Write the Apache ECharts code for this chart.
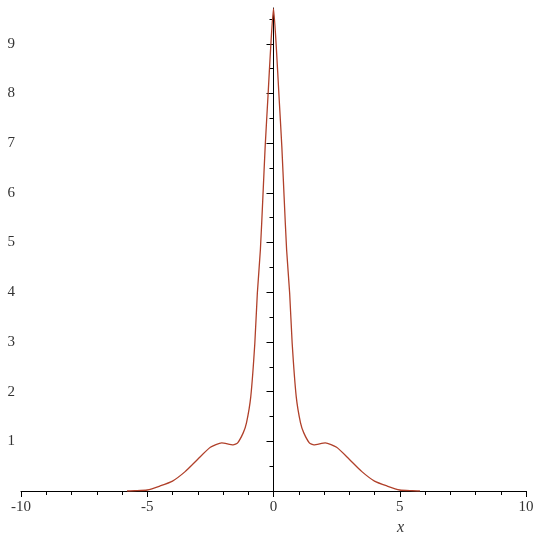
<!DOCTYPE html>
<html>
<head>
<meta charset="utf-8">
<script src="https://cdn.jsdelivr.net/npm/echarts@6/dist/echarts.min.js"></script>
<style>
  html, body { margin: 0; padding: 0; background: #fff; }
  #main { width: 550px; height: 547px; }
</style>
</head>
<body>
<div id="main"></div>
<script>
// curve points
var xs = [-5.8, -5.5, -5, -4.5, -4, -3.5, -3, -2.5, -2.05, -1.6, -1.42, -1.2, -1.07, -0.9, -0.74, -0.64, -0.52, -0.42, -0.33, -0.22, -0.11, 0,
  0.11, 0.22, 0.33, 0.42, 0.52, 0.64, 0.74, 0.9, 1.07, 1.2, 1.42, 1.6, 2.05, 2.5, 3, 3.5, 4, 4.5, 5, 5.5, 5.8]
var ys = [0, 0.005, 0.02, 0.1, 0.2, 0.39, 0.64, 0.88, 0.97, 0.93, 0.97, 1.17, 1.37, 1.9, 2.97, 3.98, 4.85, 5.92, 6.93, 7.93, 8.94, 9.71,
  8.94, 7.93, 6.93, 5.92, 4.85, 3.98, 2.97, 1.9, 1.37, 1.17, 0.97, 0.93, 0.97, 0.88, 0.64, 0.39, 0.2, 0.1, 0.02, 0.005, 0]
var yTicks = [1, 2, 3, 4, 5, 6, 7, 8, 9]
var yHalfTicks = [0.5, 1.5, 2.5, 3.5, 4.5, 5.5, 6.5, 7.5, 8.5, 9.5]

var points = xs.map(function (x, i) { return [x, ys[i]] })

var labelFont = {
  fontFamily: 'Liberation Serif',
  fontSize: 15,
  color: '#333'
}

var gridLeft = 21
var gridRight = 24
var chartW = 550

var myChart = echarts.init(document.getElementById('main'))
myChart.setOption({
  animation: false,
  grid: {
    left: gridLeft,
    right: gridRight,
    top: 8,
    bottom: 56,
    outerBoundsMode: 'none'
  },
  xAxis: {
    type: 'value',
    min: -10,
    max: 10,
    interval: 5,
    axisLine: { onZero: true, lineStyle: { color: '#000', width: 1 } },
    axisTick: { show: true, length: 6, lineStyle: { color: '#000' } },
    minorTick: { show: true, splitNumber: 5, length: 4, lineStyle: { color: '#000' } },
    axisLabel: Object.assign({ margin: 9 }, labelFont),
    splitLine: { show: false }
  },
  yAxis: [
    {
      type: 'value',
      min: 0,
      max: 9.72,
      position: 'left',
      axisLine: { onZero: true, lineStyle: { color: '#000', width: 1 } },
      axisTick: { show: true, length: 7, customValues: yTicks, lineStyle: { color: '#000' } },
      axisLabel: Object.assign({ margin: 6, customValues: yTicks }, labelFont),
      splitLine: { show: false }
    },
    {
      // half-unit ticks, shifted onto x = 0
      type: 'value',
      min: 0,
      max: 9.72,
      position: 'left',
      offset: -(chartW - gridLeft - gridRight) / 2,
      axisLine: { onZero: false, show: false },
      axisTick: { show: true, length: 4, customValues: yHalfTicks, lineStyle: { color: '#000' } },
      axisLabel: { show: false },
      splitLine: { show: false }
    }
  ],
  graphic: [
    {
      type: 'text',
      left: 397,
      top: 520,
      style: {
        text: 'x',
        fontFamily: 'Liberation Serif',
        fontStyle: 'italic',
        fontSize: 16,
        fill: '#333'
      }
    }
  ],
  series: [
    {
      type: 'line',
      data: points,
      showSymbol: false,
      smooth: 0.2,
      lineStyle: { color: '#b0402a', width: 1.3 },
      z: 3
    }
  ]
})
</script>
</body>
</html>
